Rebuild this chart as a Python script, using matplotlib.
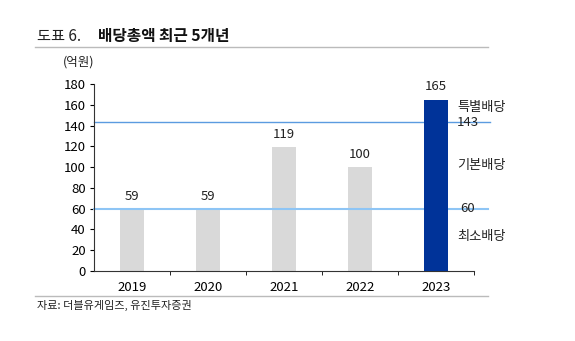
import matplotlib
matplotlib.use('Agg')
import matplotlib.pyplot as plt
import numpy as np

plt.rcParams['font.family'] = ['Noto Sans CJK KR', 'DejaVu Sans']

years = ['2019', '2020', '2021', '2022', '2023']
dividends = [59, 59, 119, 100, 165]
special_line = 143
base_line = 60
band_labels = ['특별배당', '기본배당', '최소배당']
band_label_y = [157, 102, 33]

fig = plt.figure(figsize=(5.75, 3.41), dpi=100)
ax = fig.add_axes([0.1635, 0.2053, 0.661, 0.5484])

x = np.arange(len(years))
colors = ['#d9d9d9'] * 4 + ['#003399']
zs = [1] * 4 + [3]
for xi, v, c, z in zip(x, dividends, colors, zs):
	ax.bar(xi, v, width=0.32, color=c, zorder=z)
	ax.text(xi, v + 6, str(v), ha='center', va='bottom', fontsize=9.5, color='#222222')

# reference lines for special / base dividend
ax.plot([-0.5, 4.71], [special_line, special_line], color='#5b9be0', lw=1.0, zorder=2, clip_on=False)
ax.plot([-0.5, 4.68], [base_line, base_line], color='#8ec5f5', lw=1.5, zorder=2, clip_on=False)
ax.text(4.42, special_line, str(special_line), ha='center', va='center', fontsize=9.5, color='#222222', clip_on=False)
ax.text(4.42, base_line, str(base_line), ha='center', va='center', fontsize=9.5, color='#222222', clip_on=False)
for lab, ly in zip(band_labels, band_label_y):
	ax.text(4.28, ly, lab, ha='left', va='center', fontsize=9.5, color='#222222', clip_on=False)

ax.set_xlim(-0.5, 4.5)
ax.set_ylim(0, 180)
ax.set_yticks(np.arange(0, 181, 20))
ax.set_xticks(x)
ax.set_xticklabels(years)
ax.set_xticks(np.arange(0.5, 4.6, 1), minor=True)
ax.tick_params(axis='x', which='major', length=0, pad=7, labelsize=9.5)
ax.tick_params(axis='x', which='minor', length=3, direction='out')
ax.tick_params(axis='y', length=3, labelsize=9.5, pad=3)
for s in ['top', 'right']:
	ax.spines[s].set_visible(False)
for s in ['left', 'bottom']:
	ax.spines[s].set_color('#333333')

# header, unit and source
fig.text(0.064, 0.893, '도표 6.', fontsize=11, color='#222222', va='center')
fig.text(0.17, 0.893, '배당총액 최근 5개년', fontsize=11.3, fontweight='bold', color='#111111', va='center')
fig.add_artist(plt.Line2D([0.061, 0.848], [0.863, 0.863], color='#bbbbbb', lw=1))
fig.text(0.109, 0.818, '(억원)', fontsize=9, color='#222222', va='center')
fig.add_artist(plt.Line2D([0.061, 0.848], [0.132, 0.132], color='#bbbbbb', lw=1))
fig.text(0.064, 0.105, '자료: 더블유게임즈, 유진투자증권', fontsize=8, color='#222222', va='center')

fig.savefig('out.png', dpi=100)
